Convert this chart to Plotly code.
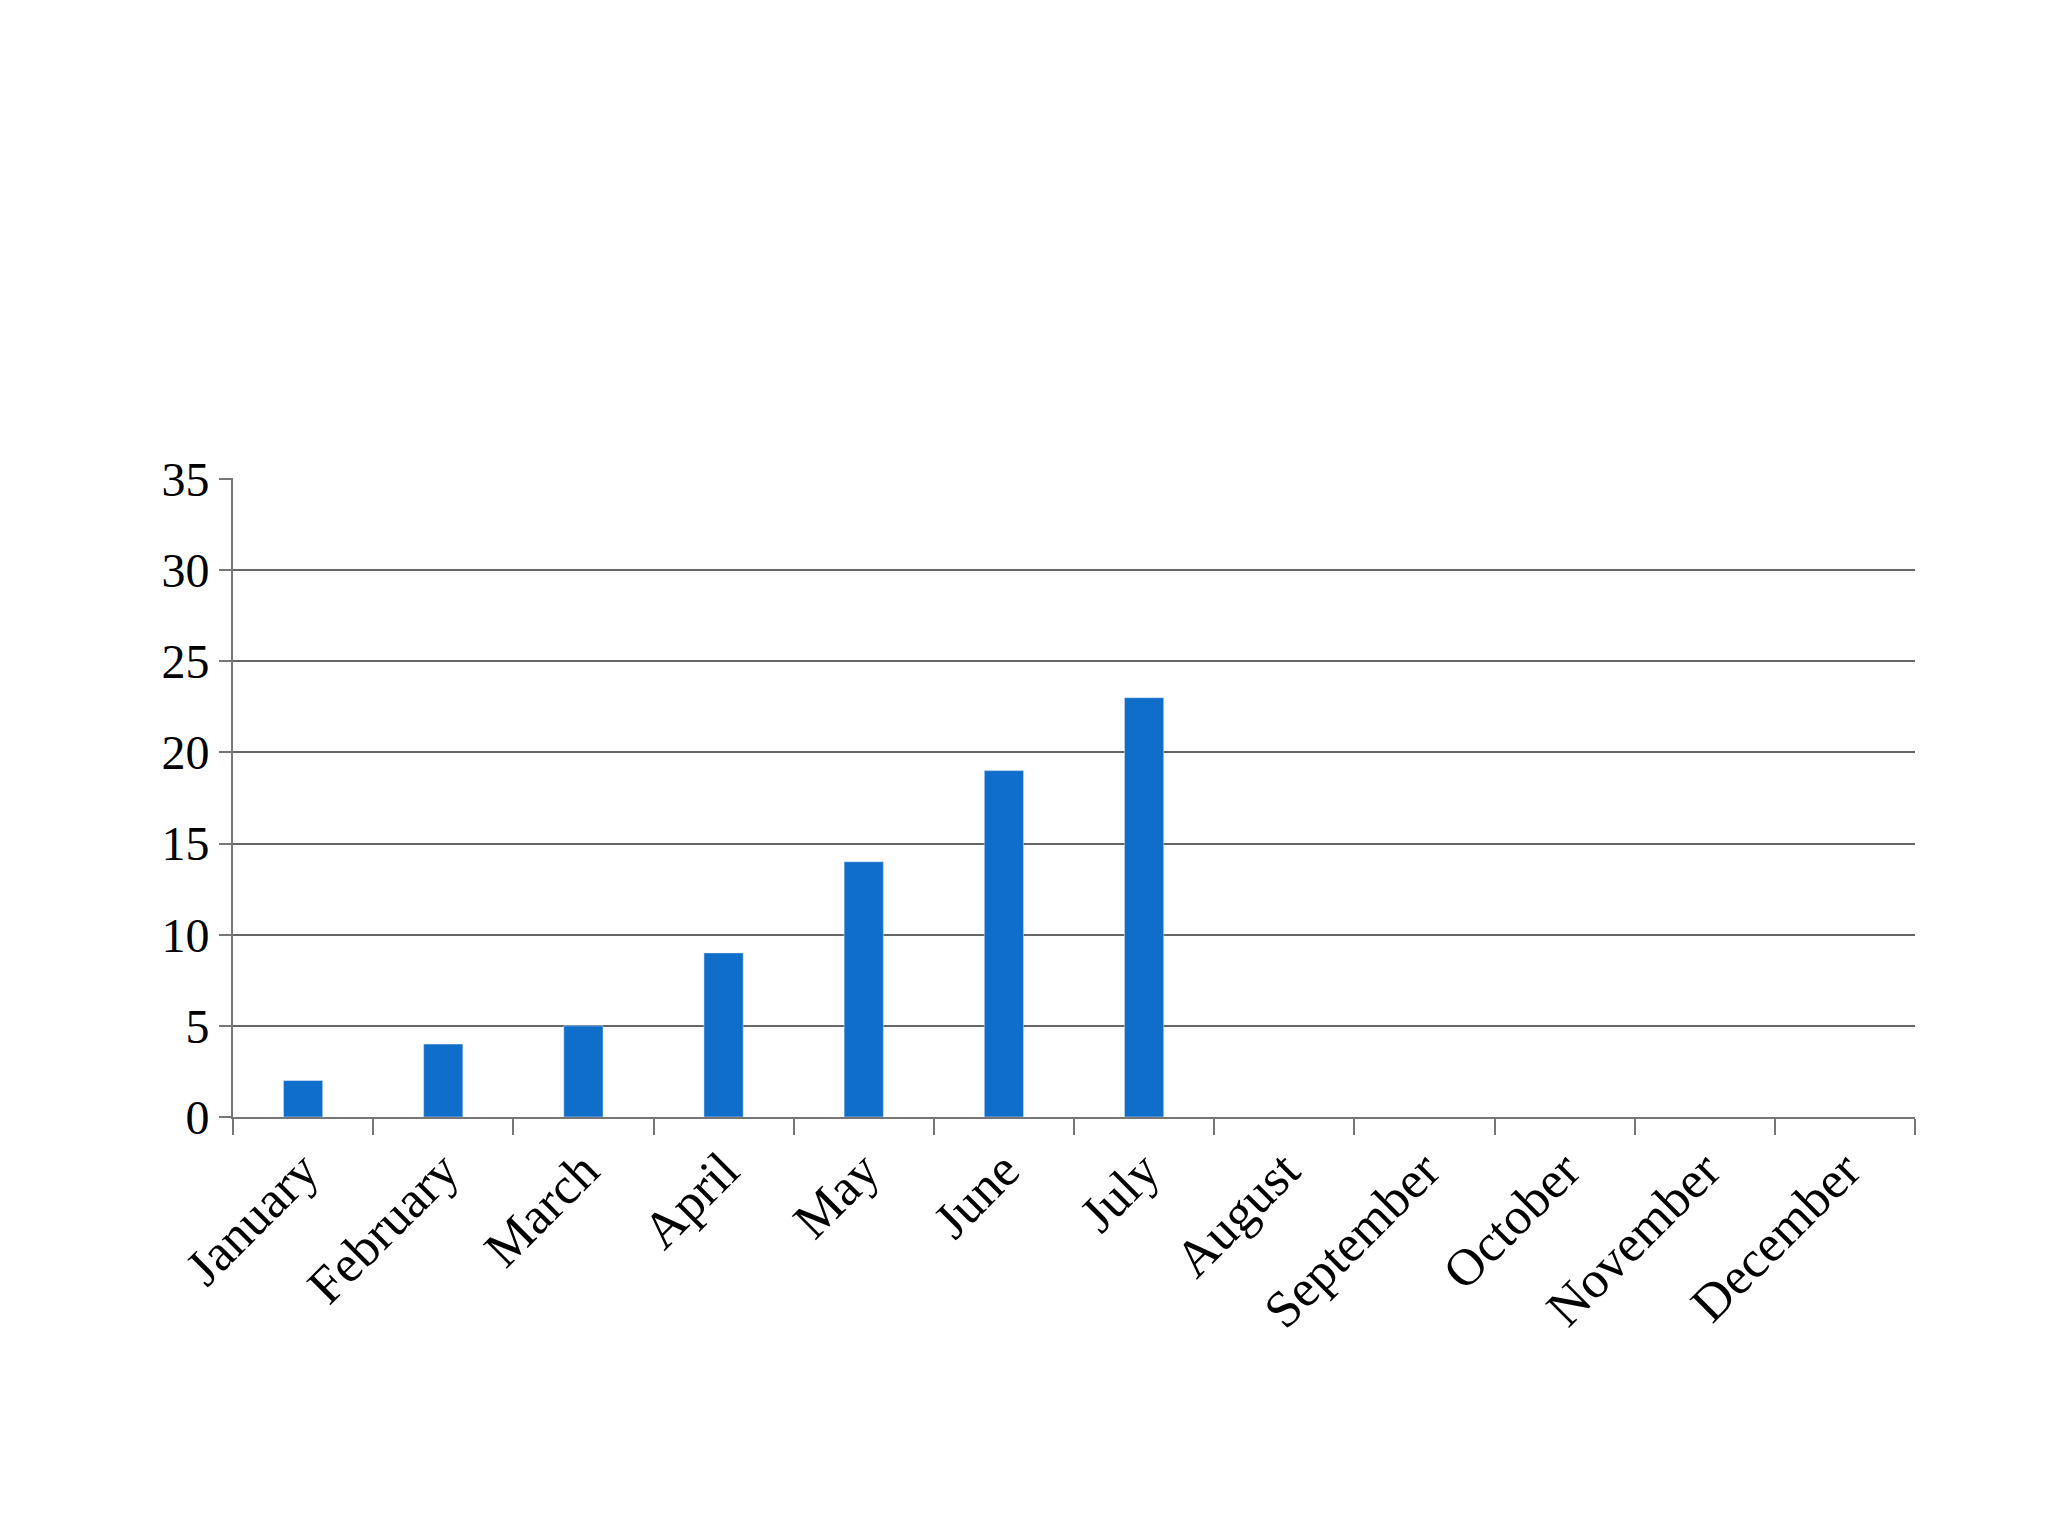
import plotly.graph_objects as go

months = ["January", "February", "March", "April", "May", "June",
          "July", "August", "September", "October", "November", "December"]
values = [2, 4, 5, 9, 14, 19, 23, None, None, None, None, None]
y_ticks = [0, 5, 10, 15, 20, 25, 30, 35]

fig = go.Figure()
fig.add_trace(go.Bar(x=months, y=values, marker_color="#106ECB", width=0.28))

xfont = dict(family="Liberation Serif", size=52, color="black")
yfont = dict(family="Liberation Serif", size=48, color="black")
fig.update_layout(
    width=2048, height=1536,
    plot_bgcolor="white", paper_bgcolor="white",
    showlegend=False,
    margin=dict(l=225, r=141, t=470, b=427),
    xaxis=dict(tickangle=-45, tickfont=xfont, tickson="boundaries",
               ticks="outside", ticklen=16, tickcolor="#777", tickwidth=2,
               showline=True, linecolor="#777", linewidth=2,
               showgrid=False, range=[-0.5, 11.5]),
    yaxis=dict(range=[0, 35.05], tickvals=y_ticks, tickfont=yfont,
               ticks="outside", ticklen=12, tickcolor="#777", tickwidth=2,
               showline=True, linecolor="#777", linewidth=2,
               gridcolor="#666", gridwidth=2, zeroline=False),
)

fig.write_html("out.html")
